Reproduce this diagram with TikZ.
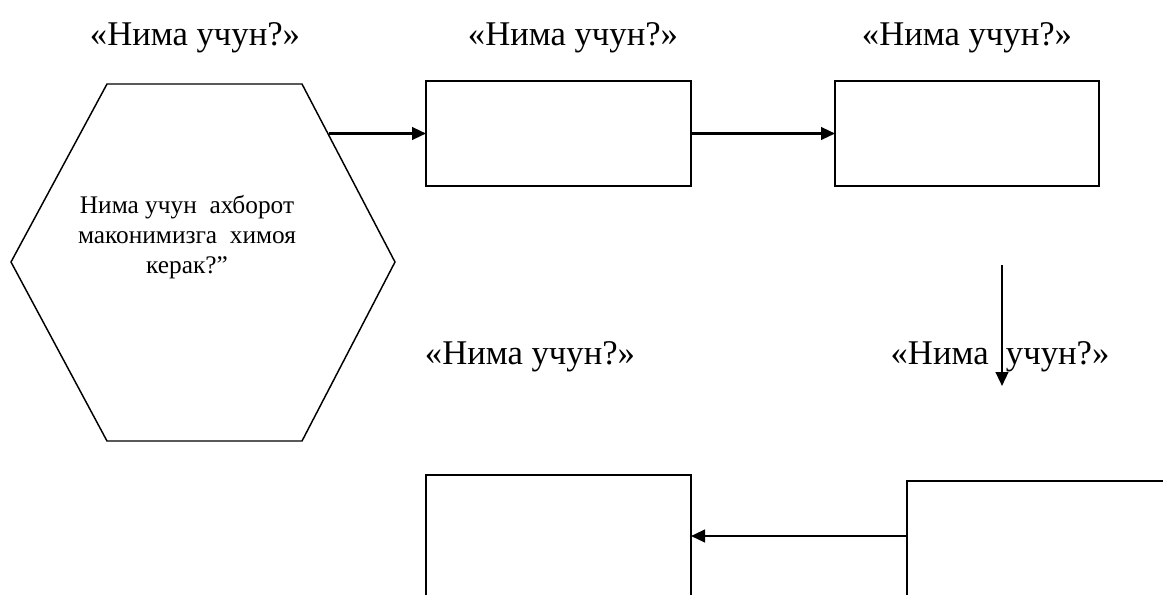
\documentclass[tikz,border=0pt]{standalone}
\usepackage{fontspec}
\setmainfont{Liberation Serif}
\usetikzlibrary{arrows.meta}
\begin{document}
\begin{tikzpicture}[x=0.75pt,y=-0.75pt,
  box/.style={draw, line width=1.3pt, inner sep=0pt, outer sep=0pt, anchor=north west,
              minimum width=198.75pt, minimum height=78.75pt},
  tallbox/.style={box, minimum height=112.5pt},
  lbl/.style={anchor=base, inner sep=0pt, font=\fontsize{26}{30}\selectfont},
  arr/.style={line width=1.7pt, -{Triangle[length=10.5pt,width=9.5pt]}},
  hexline/.style={line width=1.1pt, line join=miter}]
\useasboundingbox (0,0) rectangle (1163,594);
\clip (0,0) rectangle (1163,594);
% hexagon
\draw[hexline] (11,262) -- (107,84) -- (302,84) -- (395,262) -- (302,441) -- (107,441) -- cycle;
\node[align=center, inner sep=0pt, font=\fontsize{19}{22.5}\selectfont] (hex) at (187,237)
  {Нима учун\ \ ахборот\\маконимизга\ \ химоя\\керак?”};
% boxes
\node[box] (b1) at (426,81) {};
\node[box, minimum width=198pt] (b2) at (835,81) {};
\node[tallbox] (b3) at (426,475) {};
\node[tallbox, minimum width=225pt] (b4) at (907,481) {};
% labels
\node[lbl] (l1) at (195,45) {«Нима учун?»};
\node[lbl] (l2) at (573,45) {«Нима учун?»};
\node[lbl] (l3) at (967,45) {«Нима учун?»};
\node[lbl] (l4) at (530,364) {«Нима учун?»};
\node[lbl] (l5) at (1000,364) {«Нима\ \ учун?»};
% connectors
\coordinate (hexout) at (329,133.5);
\coordinate (v1) at (1002,265);
\coordinate (v2) at (1002,386);
\coordinate (m4) at (907,536);
\draw[arr] (hexout) -- (b1.west);
\draw[arr] (b1.east) -- (b2.west);
\draw[arr] (v1) -- (v2);
\draw[arr] (m4) -- (b3.east |- m4);
\end{tikzpicture}
\end{document}
